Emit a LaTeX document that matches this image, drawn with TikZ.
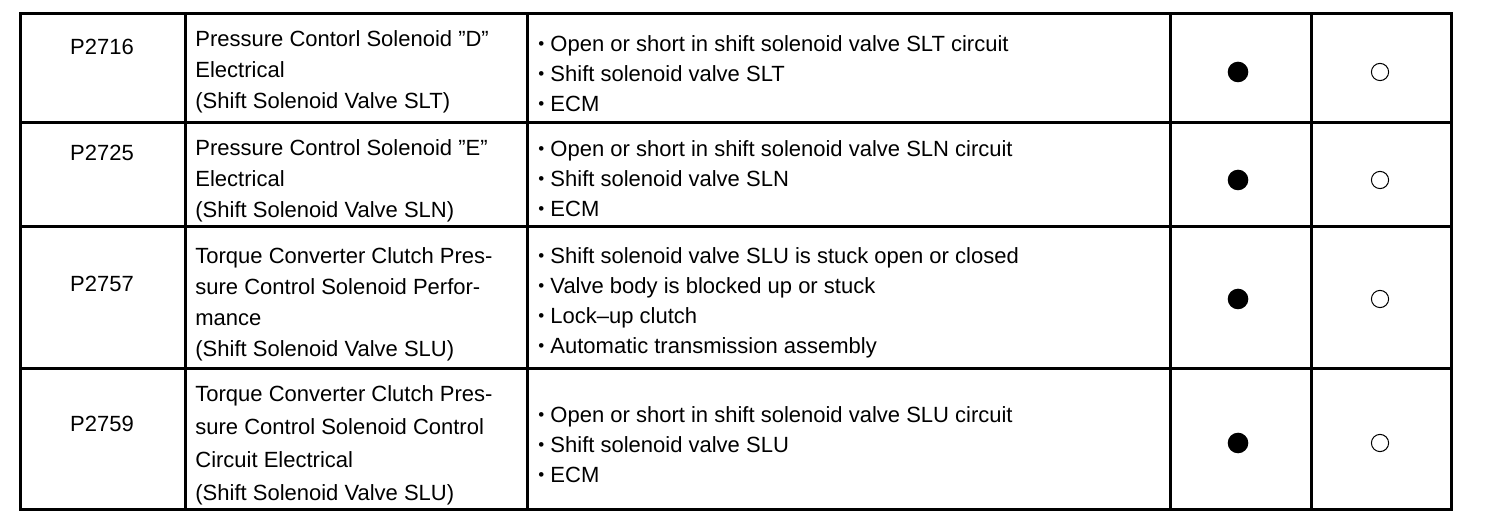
\documentclass[tikz,border=0pt]{standalone}
\usepackage{fontspec}
\setmainfont{Liberation Sans}
\newcommand{\bul}{\raisebox{0.7pt}{\fontsize{8.5}{8.5}\selectfont •}\ }
\begin{document}
\begin{tikzpicture}[x=0.5pt, y=-0.5pt,
        rule/.style={line width=1.5pt, line cap=rect},
        codetext/.style={anchor=north, inner sep=0pt, font=\fontsize{11}{15.5}\selectfont},
        celltext/.style={anchor=north west, align=left, inner sep=0pt, font=\fontsize{11}{15.5}\selectfont},
        listtext/.style={celltext, font=\fontsize{11}{15}\selectfont},
        fulldot/.style={circle, fill=black, minimum size=10.3pt, inner sep=0pt},
        opendot/.style={circle, draw=black, line width=0.5pt, minimum size=8.6pt, inner sep=0pt}]
    \useasboundingbox (0,0) rectangle (1504,528);

    % table rules
    \foreach \y in {14,123,227,369,510}
        \draw[rule] (20,\y) -- (1451,\y);
    \foreach \x in {20,185,527,1170,1311,1451}
        \draw[rule] (\x,14) -- (\x,510);

    % code, and the two marks of each row
    \foreach[count=\i] \code/\y/\d in {P2716/39/72, P2725/145/180, P2757/276/299, P2759/416/443} {
        \node[codetext] (code\i) at (102,\y) {\code};
        \node[fulldot] (on\i) at (1238,\d) {};
        \node[opendot] (off\i) at (1380,\d) {};
    }

    \node[celltext] (name1) at (195,30) {Pressure Contorl Solenoid ''D''\\Electrical\\(Shift Solenoid Valve SLT)};
    \node[celltext] (name2) at (195,139) {Pressure Control Solenoid ''E''\\Electrical\\(Shift Solenoid Valve SLN)};
    \node[celltext] (name3) at (195,247) {Torque Converter Clutch Pres-\\sure Control Solenoid Perfor-\\mance\\(Shift Solenoid Valve SLU)};
    \node[celltext, font=\fontsize{11}{16.5}\selectfont] (name4) at (195,385) {Torque Converter Clutch Pres-\\sure Control Solenoid Control\\Circuit Electrical\\(Shift Solenoid Valve SLU)};

    \node[listtext] (area1) at (538,35) {\bul Open or short in shift solenoid valve SLT circuit\\\bul Shift solenoid valve SLT\\\bul ECM};
    \node[listtext] (area2) at (538,140) {\bul Open or short in shift solenoid valve SLN circuit\\\bul Shift solenoid valve SLN\\\bul ECM};
    \node[listtext] (area3) at (538,247) {\bul Shift solenoid valve SLU is stuck open or closed\\\bul Valve body is blocked up or stuck\\\bul Lock--up clutch\\\bul Automatic transmission assembly};
    \node[listtext] (area4) at (538,406) {\bul Open or short in shift solenoid valve SLU circuit\\\bul Shift solenoid valve SLU\\\bul ECM};
\end{tikzpicture}
\end{document}
